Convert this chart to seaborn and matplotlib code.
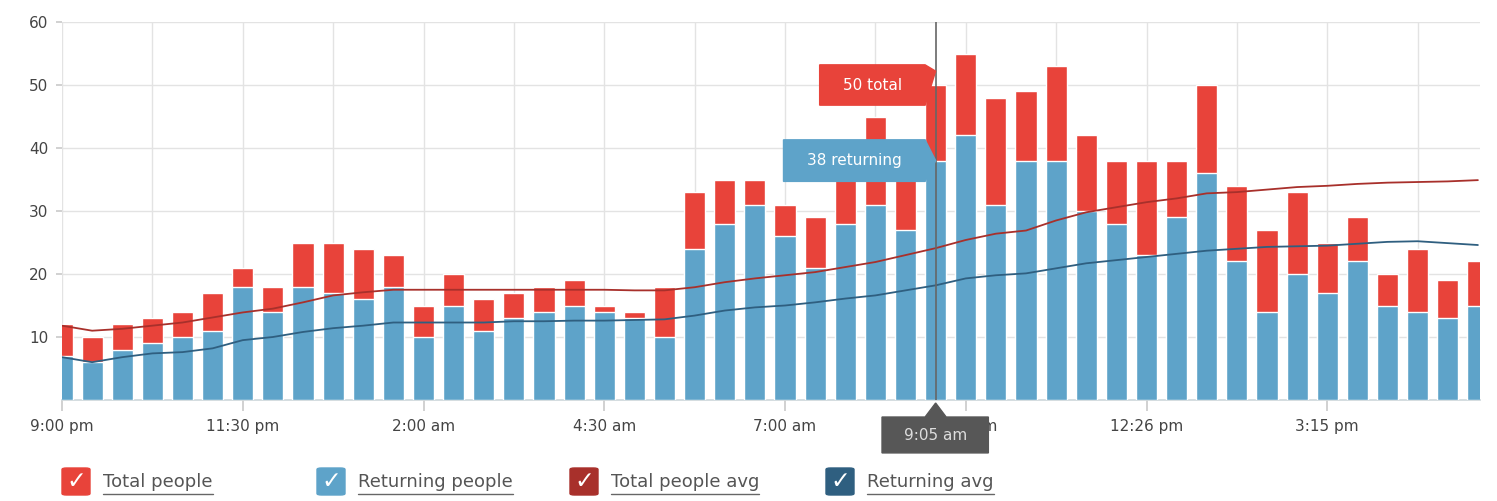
import numpy as np
import pandas as pd
import seaborn as sns
import matplotlib
matplotlib.use("Agg")
import matplotlib.pyplot as plt
from matplotlib.patches import Rectangle, Polygon, FancyBboxPatch
from matplotlib.lines import Line2D
import matplotlib.transforms as mtransforms

# data
total_people = [12, 10, 12, 13, 14, 17, 21, 18, 25, 25, 24, 23, 15, 20, 16, 17,
                18, 19, 15, 14, 18, 33, 35, 35, 31, 29, 38, 45, 37, 50, 55, 48,
                49, 53, 42, 38, 38, 38, 50, 34, 27, 33, 25, 29, 20, 24, 19, 22]
returning_people = [7, 6, 8, 9, 10, 11, 18, 14, 18, 17, 16, 18, 10, 15, 11, 13,
                    14, 15, 14, 13, 10, 24, 28, 31, 26, 21, 28, 31, 27, 38, 42, 31,
                    38, 38, 30, 28, 23, 29, 36, 22, 14, 20, 17, 22, 15, 14, 13, 15]
total_avg = [11.8, 11.0, 11.3, 11.8, 12.3, 13.1, 13.9, 14.5, 15.5, 16.6, 17.1, 17.5,
             17.5, 17.5, 17.5, 17.5, 17.5, 17.5, 17.5, 17.4, 17.4, 17.9, 18.7, 19.3,
             19.8, 20.3, 21.1, 21.9, 23.0, 24.1, 25.4, 26.4, 26.9, 28.5, 29.8, 30.6,
             31.4, 32.0, 32.8, 33.0, 33.4, 33.8, 34.0, 34.3, 34.5, 34.6, 34.7, 34.9]
returning_avg = [6.8, 6.0, 6.8, 7.4, 7.6, 8.2, 9.5, 10.0, 10.8, 11.4, 11.8, 12.3,
                 12.3, 12.3, 12.3, 12.5, 12.5, 12.6, 12.6, 12.7, 12.8, 13.4, 14.2, 14.7,
                 15.0, 15.5, 16.1, 16.6, 17.4, 18.2, 19.3, 19.8, 20.1, 20.9, 21.7, 22.2,
                 22.7, 23.2, 23.7, 24.0, 24.3, 24.4, 24.5, 24.8, 25.1, 25.2, 24.9, 24.6]
tick_labels = ["9:00 pm", "11:30 pm", "2:00 am", "4:30 am", "7:00 am", "9:30 am",
               "12:26 pm", "3:15 pm"]
hover_index = 29
hover_time = "9:05 am"
legend_labels = ["Total people", "Returning people", "Total people avg", "Returning avg"]

RED = "#e8433a"
BLUE = "#5ea3c9"
DARK_RED = "#a8302b"
DARK_BLUE = "#2f5f80"
GRID = "#e3e3e3"

df = pd.DataFrame({"slot": np.arange(len(total_people)),
                   "total": total_people, "returning": returning_people,
                   "total_avg": total_avg, "returning_avg": returning_avg})

sns.set_theme(style="white")
plt.rcParams["font.family"] = ["DejaVu Sans"]

fig = plt.figure(figsize=(14.97, 5.01), dpi=100)
ax = fig.add_axes([62 / 1497, 1 - 400 / 501, 1418 / 1497, 378 / 501])

# grid
for g in range(0, len(df), 3):
    ax.axvline(g, color=GRID, lw=1, zorder=0)
for g in range(10, 61, 10):
    ax.axhline(g, color=GRID, lw=1, zorder=0)

# stacked bars
sns.barplot(data=df, x="slot", y="total", color=RED, width=0.7, saturation=1,
            ax=ax, zorder=2)
sns.barplot(data=df, x="slot", y="returning", color=BLUE, width=0.7, saturation=1,
            ax=ax, zorder=3)

# averages
sns.lineplot(data=df, x="slot", y="total_avg", color=DARK_RED, lw=1.3, ax=ax, zorder=4)
sns.lineplot(data=df, x="slot", y="returning_avg", color=DARK_BLUE, lw=1.3, ax=ax, zorder=4)

ax.set_xlim(0.02, 47.07)
ax.set_ylim(0, 60)
ax.set_xticks(range(0, len(df), 6))
ax.set_xticklabels(tick_labels)
ax.set_yticks(range(10, 61, 10))
ax.set_xlabel("")
ax.set_ylabel("")
ax.tick_params(axis="x", length=8, color="#cccccc", labelsize=11, labelcolor="#444444",
               pad=6, bottom=True)
ax.tick_params(axis="y", length=4, color="#cccccc", labelsize=11, labelcolor="#444444",
               pad=6, left=True)
for s in ["top", "right", "left"]:
    ax.spines[s].set_visible(False)
ax.spines["bottom"].set_color("#cfd8dc")

# hover line
ax.axvline(hover_index, color="#666666", lw=1.2, zorder=6)

# tooltips
half = 0.35
x1 = hover_index - half
ht = total_people[hover_index]
hr = returning_people[hover_index]
ax.add_patch(Polygon([(x1 - 3.5, ht + 3.2), (x1, ht + 3.2), (x1 + 0.35, ht + 2.2),
                      (x1, ht - 3.2), (x1 - 3.5, ht - 3.2)],
                     closed=True, color=RED, zorder=7))
ax.text(x1 - 1.75, ht, f"{ht} total", color="white", fontsize=11,
        ha="center", va="center", zorder=8)
ax.add_patch(Polygon([(x1 - 4.7, hr + 3.3), (x1, hr + 3.3), (x1 + 0.35, hr),
                      (x1, hr - 3.3), (x1 - 4.7, hr - 3.3)],
                     closed=True, color=BLUE, zorder=7))
ax.text(x1 - 2.35, hr, f"{hr} returning", color="white", fontsize=11,
        ha="center", va="center", zorder=8)

# time tooltip under the axis
trans = mtransforms.blended_transform_factory(ax.transData, ax.transAxes)
ax.add_patch(Polygon([(hover_index - 1.78, -0.045), (hover_index - 0.35, -0.045),
                      (hover_index, -0.008), (hover_index + 0.35, -0.045),
                      (hover_index + 1.75, -0.045), (hover_index + 1.75, -0.14),
                      (hover_index - 1.78, -0.14)],
                     closed=True, color="#575757", transform=trans, clip_on=False, zorder=9))
ax.text(hover_index, -0.093, hover_time, color="#dddddd", fontsize=11, ha="center",
        va="center", transform=trans, zorder=10)

# legend with checkboxes
box_colors = [RED, BLUE, DARK_RED, DARK_BLUE]
box_x = [62, 317, 570, 826]
texts = []
for lab, col, bx in zip(legend_labels, box_colors, box_x):
    fig.patches.append(FancyBboxPatch((bx / 1497, 1 - 495 / 501), 28 / 1497, 27 / 501,
                                      boxstyle="round,pad=0,rounding_size=0.003",
                                      transform=fig.transFigure, color=col))
    fig.text((bx + 14) / 1497, 1 - 481 / 501, "\u2713", color="white", fontsize=17,
             fontweight="bold", ha="center", va="center")
    t = fig.text((bx + 41) / 1497, 1 - 482 / 501, lab, color="#555555", fontsize=13,
                 ha="left", va="center")
    texts.append(t)

fig.canvas.draw()
r = fig.canvas.get_renderer()
for t in texts:
    bb = t.get_window_extent(renderer=r)
    yline = (501 - 494) / 501
    fig.add_artist(Line2D([bb.x0 / 1497, bb.x1 / 1497], [yline, yline],
                          color="#666666", lw=1, transform=fig.transFigure))

fig.savefig("out.png", dpi=100, facecolor="white")
